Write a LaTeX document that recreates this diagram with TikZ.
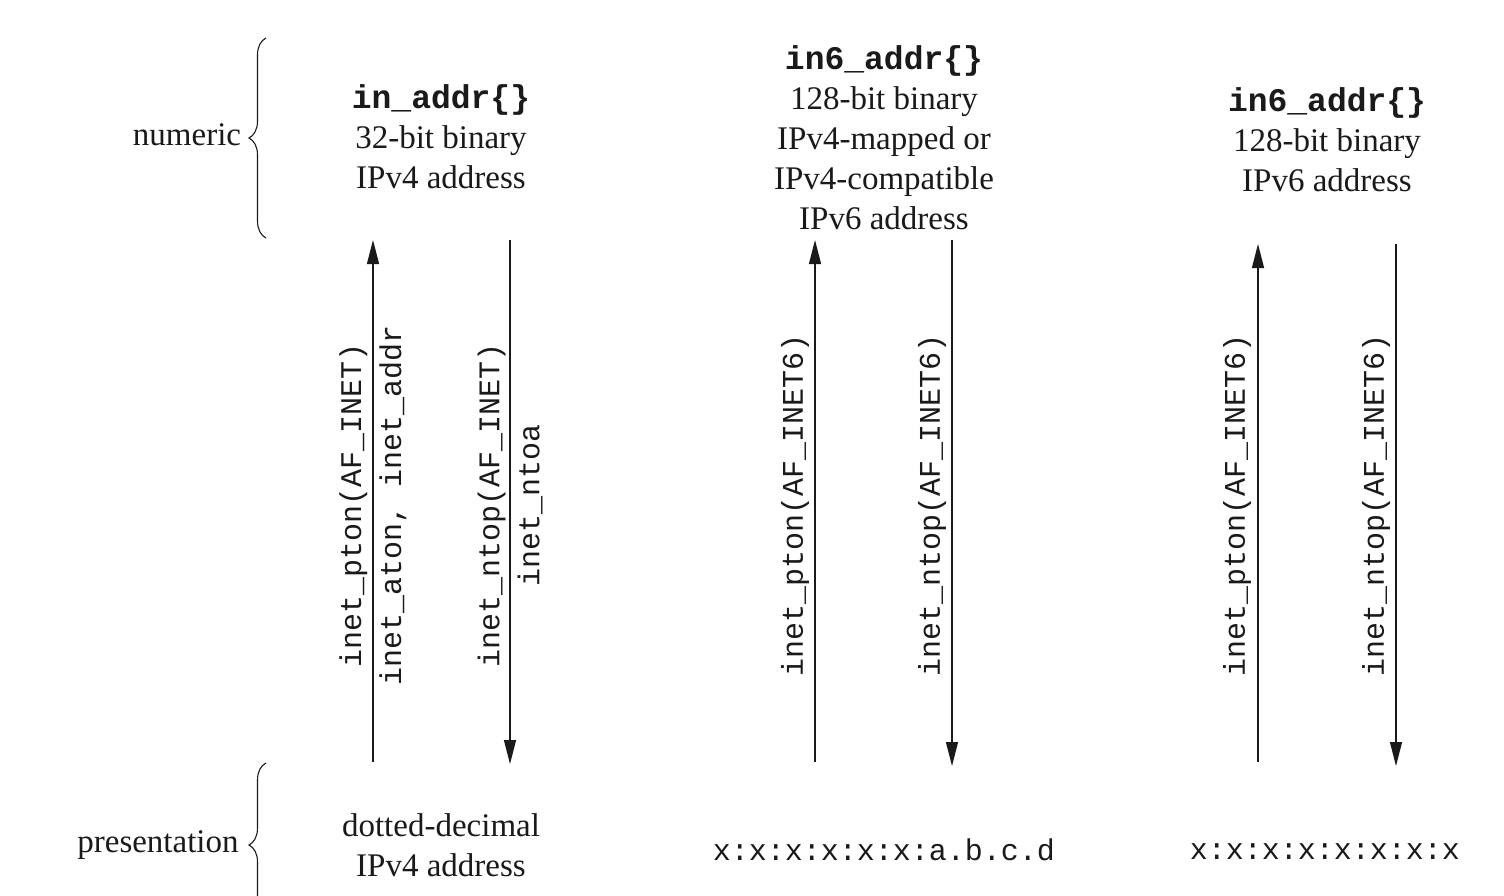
\documentclass[tikz,border=0pt]{standalone}
\usepackage{fontspec}
\setmainfont{Liberation Serif}
\setmonofont{Liberation Mono}
\usepackage{tikz}
\usetikzlibrary{positioning,arrows.meta,decorations.pathreplacing}
\definecolor{ink}{HTML}{1A1A1A}
\tikzset{
  txt/.style={align=center, text=ink, inner sep=0pt,
              font=\fontsize{33}{40}\selectfont},
  addr/.style={text=ink, inner sep=0pt,
               font=\ttfamily\fontsize{30}{40}\selectfont},
  fn/.style={rotate=90, align=center, text=ink, inner sep=0pt,
             font=\ttfamily\fontsize{30}{40}\selectfont},
  ar/.style={-{Triangle[length=24pt,width=12pt]}, line width=1.3pt, draw=ink},
  brc/.style={decorate, decoration={brace, amplitude=17pt}, line width=1.1pt, draw=ink},
}

\begin{document}
\begin{tikzpicture}[x=1pt, y=-1pt]
  \clip (0,0) rectangle (1504,895);
  \fill[white] (0,0) rectangle (1504,895);

  % side labels and braces
  \node[txt] (num)  at (187,135) {numeric};
  \node[txt] (pres) at (158,845) {presentation};
  \coordinate (numb) at (266,238);
  \coordinate (numt) at (266,38);
  \coordinate (presb) at (266,927);
  \coordinate (prest) at (266,763);
  \draw[brc] (numb) -- (numt);
  \draw[brc] (presb) -- (prest);

  % numeric forms
  \node[txt] (v4bin)  at (441,137) {\texttt{\textbf{in\_addr\{\}}}\\32-bit binary\\IPv4 address};
  \node[txt] (mapbin) at (884,138) {\texttt{\textbf{in6\_addr\{\}}}\\128-bit binary\\IPv4-mapped or\\IPv4-compatible\\IPv6 address};
  \node[txt] (v6bin)  at (1327,140) {\texttt{\textbf{in6\_addr\{\}}}\\128-bit binary\\IPv6 address};

  % presentation forms
  \node[txt]  (v4str)  at (441,845) {dotted-decimal\\IPv4 address};
  \node[addr] (mapstr) at (884,850) {x:x:x:x:x:x:a.b.c.d};
  \node[addr] (v6str)  at (1325,852) {x:x:x:x:x:x:x:x};

  % arrow ends
  \coordinate (a1t) at (373,240);  \coordinate (a1b) at (373,762);
  \coordinate (a2t) at (510,240);  \coordinate (a2b) at (510,764);
  \coordinate (a3t) at (815,240);  \coordinate (a3b) at (815,762);
  \coordinate (a4t) at (952,240);  \coordinate (a4b) at (952,766);
  \coordinate (a5t) at (1258,244); \coordinate (a5b) at (1258,762);
  \coordinate (a6t) at (1396,244); \coordinate (a6b) at (1396,766);

  \draw[ar] (a1b) -- (a1t);
  \draw[ar] (a2t) -- (a2b);
  \draw[ar] (a3b) -- (a3t);
  \draw[ar] (a4t) -- (a4b);
  \draw[ar] (a5b) -- (a5t);
  \draw[ar] (a6t) -- (a6b);

  % function names
  \node[fn] (f1) at (373,505) {inet\_pton(AF\_INET)\\inet\_aton, inet\_addr};
  \node[fn] (f2) at (510,505) {inet\_ntop(AF\_INET)\\inet\_ntoa};
  \node[fn] (f3) at (795,505) {inet\_pton(AF\_INET6)};
  \node[fn] (f4) at (932,505) {inet\_ntop(AF\_INET6)};
  \node[fn] (f5) at (1237,505) {inet\_pton(AF\_INET6)};
  \node[fn] (f6) at (1376,505) {inet\_ntop(AF\_INET6)};
\end{tikzpicture}
\end{document}
